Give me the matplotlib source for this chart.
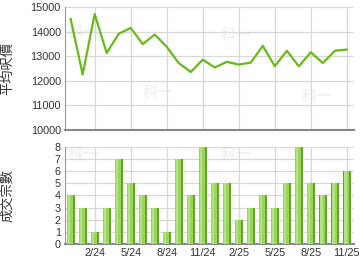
import matplotlib.pyplot as plt
import numpy as np

# ====== DATA ======
months = ['12/23', '1/24', '2/24', '3/24', '4/24', '5/24', '6/24', '7/24', '8/24',
          '9/24', '10/24', '11/24', '12/24', '1/25', '2/25', '3/25', '4/25', '5/25',
          '6/25', '7/25', '8/25', '9/25', '10/25', '11/25']
avg_price = [14510, 12260, 14710, 13130, 13910, 14150, 13490, 13880, 13380,
             12720, 12360, 12860, 12540, 12770, 12660, 12740, 13420, 12590,
             13220, 12590, 13160, 12720, 13220, 13270]
deals = [4, 3, 1, 3, 7, 5, 4, 3, 1, 7, 4, 8, 5, 5, 2, 3, 4, 3, 5, 8, 5, 4, 5, 6]
tick_idx = [2, 5, 8, 11, 14, 17, 20, 23]

plt.rcParams['font.family'] = ['Liberation Sans', 'Noto Sans CJK TC', 'DejaVu Sans']

x = np.arange(len(months))
fig = plt.figure(figsize=(3.6, 2.7), dpi=100)
ax1 = fig.add_axes([0.1806, 0.5185, 0.803, 0.4556])
ax2 = fig.add_axes([0.1806, 0.0963, 0.803, 0.3593])

for ax in (ax1, ax2):
    ax.set_xlim(-0.47, 23.6)
    ax.set_xticks(tick_idx)
    ax.grid(True, color='#d8d8d8', linewidth=0.9)
    ax.set_axisbelow(True)
    for s in ('top', 'right'):
        ax.spines[s].set_visible(False)
    ax.spines['left'].set_color('#999999')
    ax.spines['bottom'].set_color('#888888')
    ax.spines['bottom'].set_linewidth(1.5)
    ax.tick_params(length=0, labelsize=7.8, colors='#333333', pad=3)

# top: average price per sq ft
ax1.plot(x, avg_price, color='#66bb18', linewidth=1.6)
ax1.set_ylim(10000, 15000)
ax1.set_yticks(range(10000, 15001, 1000))
ax1.set_xticklabels([])
ax1.set_ylabel('平均呎價', fontsize=9.5, color='#333333',
               family=['Noto Sans CJK TC'])
ax1.yaxis.set_label_coords(-0.176, 0.5)

# bottom: number of deals
ax2.bar(x, deals, width=0.68, color='#5ca81c', zorder=2)
ax2.bar(x - 0.06, deals, width=0.44, color='#9ad45e', zorder=3)
ax2.bar(x - 0.12, deals, width=0.18, color='#b4e383', zorder=4)
ax2.set_ylim(0, 8)
ax2.set_yticks(range(0, 9))
ax2.set_xticklabels([months[i] for i in tick_idx])
ax2.set_ylabel('成交宗數', fontsize=9.5, color='#333333',
               family=['Noto Sans CJK TC'])
ax2.yaxis.set_label_coords(-0.176, 0.5)

# faint watermarks
for ax, spots in [(ax1, [(0.01, 0.80), (0.32, 0.31), (0.59, 0.77), (0.87, 0.28)]),
                  (ax2, [(0.01, 0.93), (0.59, 0.93), (0.29, 0.32), (0.85, 0.32)])]:
    for wx, wy in spots:
        ha = 'left' if wx < 0.05 else 'center'
        ax.text(wx, wy, '科一', transform=ax.transAxes, fontsize=11,
                fontweight='bold', color='#f2f2f2', ha=ha, va='center',
                zorder=0.4, family=['Noto Sans CJK TC'])

fig.savefig('out.png', dpi=100)
